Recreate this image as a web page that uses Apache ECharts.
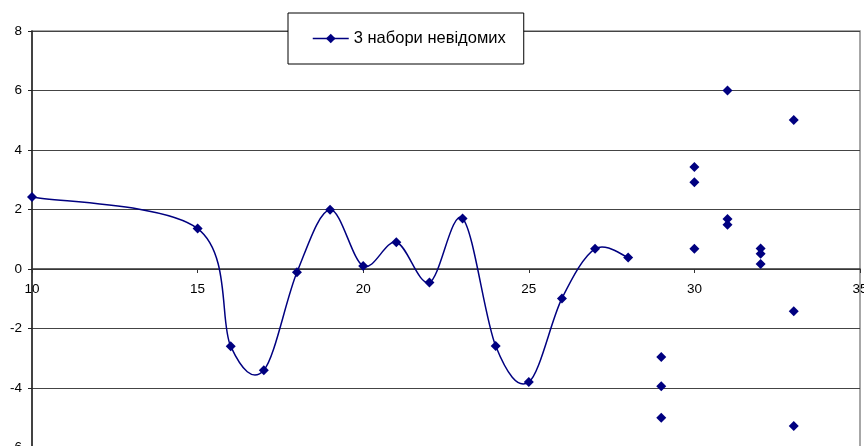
<!DOCTYPE html>
<html>
<head>
<meta charset="utf-8">
<script src="https://cdn.jsdelivr.net/npm/echarts@6/dist/echarts.min.js"></script>
<style>
html,body{margin:0;padding:0;background:#fff;}
#chart{width:864px;height:446px;}
</style>
</head>
<body>
<div id="chart"></div>
<script>
// Connected (smoothed) series
var lineX = [10, 15, 16, 17, 18, 19, 20, 21, 22, 23, 24, 25, 26, 27, 28];
var lineY = [2.42, 1.36, -2.6, -3.4, -0.11, 1.99, 0.1, 0.9, -0.45, 1.7, -2.59, -3.8, -0.99, 0.68, 0.39];
// Unconnected points
var pointX = [29, 29, 29, 30, 30, 30, 31, 31, 31, 32, 32, 32, 33, 33, 33];
var pointY = [-2.96, -3.94, -5.0, 3.43, 2.92, 0.68, 6.0, 1.68, 1.49, 0.69, 0.51, 0.17, 5.01, -1.42, -5.28];
var seriesName = '3 набори невідомих';
var xTicks = [10, 15, 20, 25, 30, 35];
var yTicks = [-6, -4, -2, 0, 2, 4, 6, 8];

var color = '#000080';
var font = 'Arial, "Liberation Sans", sans-serif';
function pairs(xs, ys){ return xs.map(function(x,i){return [x, ys[i]];}); }

var gridTop = 31, gridHeight = 416.5;
var yMin = yTicks[0], yMax = yTicks[yTicks.length-1];
var zeroOffset = -gridHeight * (0 - yMin) / (yMax - yMin);

// Excel-style smoothed curve drawn through the axis scales
function renderCurve(params, api) {
  var pts = lineX.map(function(x, i){ return api.coord([x, lineY[i]]); });
  var n = pts.length;
  var d = 'M' + pts[0][0] + ',' + pts[0][1];
  for (var i = 0; i < n - 1; i++) {
    var p0 = pts[Math.max(i - 1, 0)], p1 = pts[i], p2 = pts[i + 1], p3 = pts[Math.min(i + 2, n - 1)];
    var c1x = p1[0] + (p2[0] - p0[0]) / 6, c1y = p1[1] + (p2[1] - p0[1]) / 6;
    var c2x = p2[0] - (p3[0] - p1[0]) / 6, c2y = p2[1] - (p3[1] - p1[1]) / 6;
    d += ' C' + c1x + ',' + c1y + ' ' + c2x + ',' + c2y + ' ' + p2[0] + ',' + p2[1];
  }
  return {
    type: 'path',
    shape: {pathData: d},
    style: {fill: 'none', stroke: color, lineWidth: 1.5}
  };
}

var chart = echarts.init(document.getElementById('chart'));
chart.setOption({
  animation: false,
  grid: {left: 32, right: 4, top: gridTop, height: gridHeight, containLabel: false,
         outerBoundsMode: 'none',
         show: true, borderColor: '#8a8a8a', borderWidth: 1.5},
  legend: {
    data: [seriesName],
    left: 288, top: 13,
    padding: [17, 18, 17, 24],
    borderColor: '#000', borderWidth: 1,
    backgroundColor: '#fff',
    itemWidth: 36, itemHeight: 12, itemGap: 2,
    lineStyle: {color: color, width: 1.5, opacity: 1},
    textStyle: {fontFamily: font, fontSize: 16.5, color: '#000'}
  },
  xAxis: {
    type: 'value', min: xTicks[0], max: xTicks[xTicks.length-1], interval: 5,
    offset: zeroOffset,
    axisLine: {onZero: false, lineStyle: {color: '#333', width: 1.5}},
    axisTick: {show: true, inside: false, length: 4, lineStyle: {color: '#333'}},
    axisLabel: {margin: 13.5, color: '#000', fontSize: 13.5, fontFamily: font},
    splitLine: {show: false}
  },
  yAxis: {
    type: 'value', min: yMin, max: yMax, interval: 2,
    axisLine: {show: true, onZero: false, lineStyle: {color: '#222', width: 1.5}},
    axisTick: {show: true, length: 4, lineStyle: {color: '#222'}},
    axisLabel: {margin: 10, color: '#000', fontSize: 13.5, fontFamily: font},
    splitLine: {show: true, lineStyle: {color: '#444', width: 1}}
  },
  series: [
    {
      name: 'curve', type: 'custom', data: [[lineX[0], lineY[0]]],
      renderItem: renderCurve, silent: true, z: 2
    },
    {
      name: seriesName, type: 'line', data: pairs(lineX, lineY),
      symbol: 'diamond', symbolSize: 10,
      lineStyle: {color: color, width: 1.5, opacity: 0},
      itemStyle: {color: color, opacity: 1},
      z: 3
    },
    {
      name: 'pts', type: 'scatter', data: pairs(pointX, pointY),
      symbol: 'diamond', symbolSize: 10,
      itemStyle: {color: color, opacity: 1},
      z: 3
    }
  ]
});
</script>
</body>
</html>
